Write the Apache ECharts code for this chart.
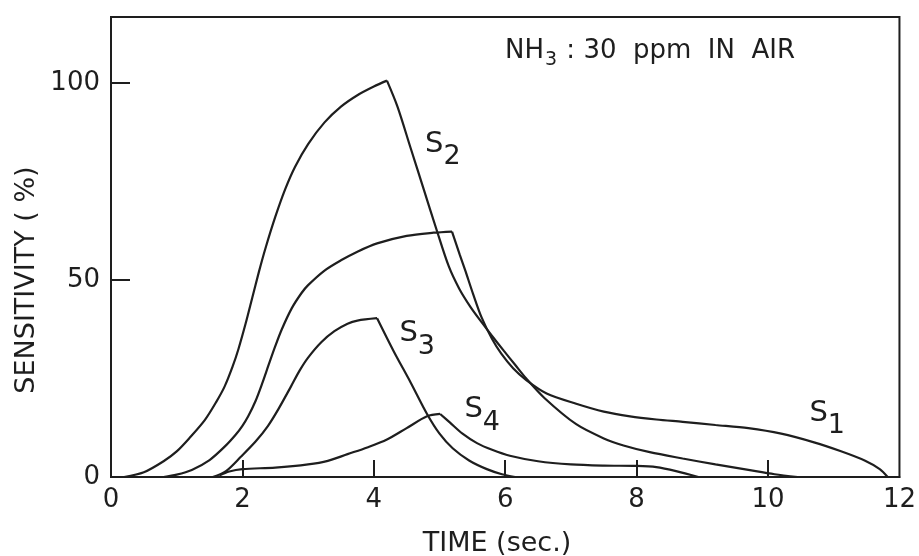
<!DOCTYPE html>
<html>
<head>
<meta charset="utf-8">
<script src="https://cdn.jsdelivr.net/npm/echarts@6/dist/echarts.min.js"></script>
<style>
  html, body { margin: 0; padding: 0; background: #fff; }
  #chart { width: 919px; height: 556px; }
</style>
</head>
<body>
<div id="chart"></div>
<script>
// Sensitivity transients of four sensors to 30 ppm NH3 in air.
// Each curve is split into its rise and its decay so the peak stays a sharp corner.
const s1Rise = [[0.8,0],[1.0,0.6],[1.23,1.8],[1.5,4.3],[1.73,7.7],[1.9,10.8],[2.0,13],[2.09,15.5],[2.2,19.3],[2.3,23.7],[2.4,28.5],[2.5,33.2],[2.6,37.5],[2.75,42.8],[2.9,46.7],[3.0,48.7],[3.25,52.4],[3.5,55],[3.75,57.2],[4.05,59.3],[4.5,61.2],[4.91,62],[5.19,62.3]];
const s1Decay = [[5.19,62.3],[5.31,56.3],[5.39,52.5],[5.51,46.5],[5.64,40.5],[5.8,35],[5.94,31.3],[6.12,27.6],[6.32,24.6],[6.63,21.2],[7.08,18.6],[7.5,16.6],[7.9,15.4],[8.3,14.6],[8.7,14],[9.2,13.2],[9.7,12.4],[10.2,11],[10.7,8.8],[11.1,6.6],[11.47,4.2],[11.7,2],[11.82,0]];
const s2Rise = [[0.2,0],[0.5,1.2],[0.8,4],[1.0,6.5],[1.2,10],[1.43,14.5],[1.6,19],[1.73,23],[1.85,28],[1.94,32.5],[2.05,39],[2.15,45.5],[2.25,52],[2.35,58],[2.5,66],[2.65,73],[2.8,78.7],[3.0,84.5],[3.25,90],[3.5,94],[3.75,96.9],[4.0,99.1],[4.2,100.6]];
const s2Decay = [[4.2,100.6],[4.36,94],[4.56,83.5],[4.76,73],[4.96,62.5],[5.14,53.5],[5.3,47.8],[5.47,43.2],[5.64,39.3],[5.8,35.8],[5.98,32],[6.15,28.5],[6.32,25],[6.6,20],[7.08,13.4],[7.5,9.8],[7.8,8],[8.2,6.3],[8.7,4.7],[9.2,3.2],[9.7,1.8],[10.1,0.7],[10.45,0]];
const s3Rise = [[1.55,0],[1.75,1.5],[1.98,5.2],[2.2,9],[2.39,13],[2.55,17.3],[2.74,23],[2.87,27],[3.0,30.3],[3.2,34.2],[3.4,37],[3.6,38.9],[3.75,39.7],[4.05,40.3]];
const s3Decay = [[4.05,40.3],[4.3,32],[4.56,24],[4.81,16],[5.0,11],[5.2,7.3],[5.45,4.2],[5.72,2],[5.95,0.7],[6.15,0]];
const s4Rise = [[1.65,0.4],[1.8,1.4],[2.0,2],[2.5,2.4],[3.0,3.2],[3.3,4.1],[3.6,5.8],[3.9,7.5],[4.2,9.5],[4.5,12.4],[4.81,15.4],[5.01,16]];
const s4Decay = [[5.01,16],[5.16,13.8],[5.35,11],[5.57,8.6],[5.8,6.9],[6.07,5.4],[6.5,4],[7.0,3.2],[7.5,2.9],[8.0,2.8],[8.3,2.5],[8.6,1.5],[8.94,0]];

const xTicks = [0, 2, 4, 6, 8, 10, 12];
const yTicks = [0, 50, 100];

// Curve names and the data point where each name is written.
const tagNames = ['1', '2', '3', '4'];
const tagAnchors = [[10.9, 14.7], [5.05, 83], [4.66, 34.8], [5.65, 15.5]];

const INK = '#1e1e1e';
const FONT = 'DejaVu Sans';

const chart = echarts.init(document.getElementById('chart'), null, { renderer: 'canvas' });

function curve(data) {
  return {
    type: 'line',
    data: data,
    smooth: 0.3,
    showSymbol: false,
    symbol: 'none',
    silent: true,
    lineStyle: { color: INK, width: 2.2 },
    z: 3
  };
}

const curves = [s1Rise, s1Decay, s2Rise, s2Decay, s3Rise, s3Decay, s4Rise, s4Decay].map(curve);

const tagSeries = {
  type: 'scatter',
  silent: true,
  symbolSize: 0,
  itemStyle: { color: 'rgba(0,0,0,0)', opacity: 1 },
  data: tagAnchors.map((p, i) => ({ value: p, name: tagNames[i] })),
  label: {
    show: true,
    position: 'inside',
    color: INK,
    opacity: 1,
    textBorderWidth: 0,
    formatter: p => '{s|S}{n|' + p.name + '}',
    rich: {
      s: { fontFamily: FONT, fontSize: 29, color: INK, padding: [0, 0, 12, 0], verticalAlign: 'top' },
      n: { fontFamily: FONT, fontSize: 27, color: INK, padding: [13, 0, 0, 0], verticalAlign: 'bottom' }
    }
  },
  z: 4
};

chart.setOption({
  animation: false,
  backgroundColor: '#fff',
  grid: {
    left: 111, right: 15, top: 17, bottom: 79,
    show: true, borderColor: INK, borderWidth: 2, backgroundColor: 'transparent'
  },
  xAxis: {
    type: 'value', min: 0, max: 12, interval: 2,
    axisLine: { show: true, lineStyle: { color: INK, width: 2 } },
    axisTick: { show: true, inside: true, length: 17, lineStyle: { color: INK, width: 2 }, customValues: xTicks.slice(1, -1) },
    axisLabel: { color: INK, fontFamily: FONT, fontSize: 26, margin: 10, customValues: xTicks },
    splitLine: { show: false }
  },
  yAxis: {
    type: 'value', min: 0, max: 116.75, interval: 50,
    axisLine: { show: true, lineStyle: { color: INK, width: 2 } },
    axisTick: { show: true, inside: true, length: 19, lineStyle: { color: INK, width: 2 }, customValues: yTicks },
    axisLabel: { color: INK, fontFamily: FONT, fontSize: 26, margin: 11, customValues: yTicks },
    splitLine: { show: false }
  },
  graphic: [
    {
      type: 'text', left: 505, top: 38, silent: true,
      style: {
        text: '{a|NH}{b|3}{a| : 30  ppm  IN  AIR}',
        rich: {
          a: { fontFamily: FONT, fontSize: 26, fill: INK, padding: [0, 0, 8, 0] },
          b: { fontFamily: FONT, fontSize: 19, fill: INK, padding: [11, 1, 0, 1] }
        }
      }
    },
    {
      type: 'text', x: 497, y: 544, silent: true,
      style: { text: 'TIME (sec.)', fontFamily: FONT, fontSize: 27, fill: INK, align: 'center', verticalAlign: 'middle' }
    },
    {
      type: 'text', x: 27, y: 280, rotation: Math.PI / 2, silent: true,
      style: { text: 'SENSITIVITY ( %)', fontFamily: FONT, fontSize: 27, fill: INK, align: 'center', verticalAlign: 'middle' }
    }
  ],
  series: curves.concat([tagSeries])
});
</script>
</body>
</html>
